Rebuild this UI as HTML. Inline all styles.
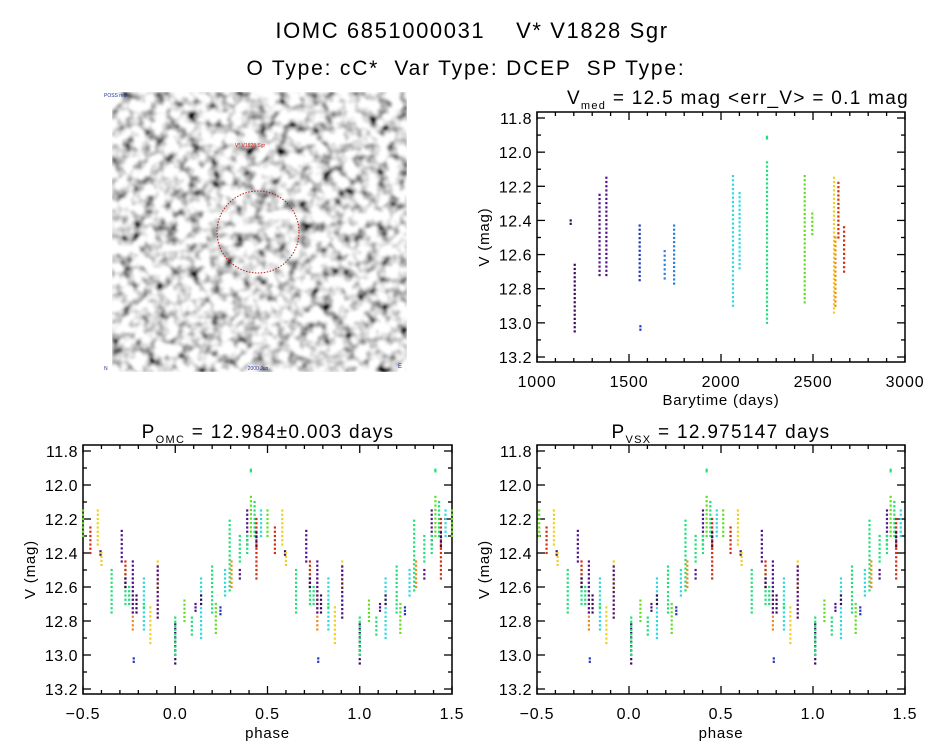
<!DOCTYPE html>
<html><head><meta charset="utf-8"><style>
html,body{margin:0;padding:0;background:#fff;}
svg{display:block;font-family:"Liberation Sans",sans-serif;}
</style></head><body>
<svg id="fig" width="944" height="747" viewBox="0 0 944 747">
<defs>
<filter id="noise" x="0" y="0" width="100%" height="100%">
<feTurbulence type="fractalNoise" baseFrequency="0.09" numOctaves="2" seed="7" result="t"/>
<feColorMatrix in="t" type="matrix" values="1 0 0 0 0 1 0 0 0 0 1 0 0 0 0 0 0 0 0 1" result="g"/>
<feComponentTransfer in="g">
<feFuncR type="linear" slope="-2.6" intercept="2.05"/>
<feFuncG type="linear" slope="-2.6" intercept="2.05"/>
<feFuncB type="linear" slope="-2.6" intercept="2.05"/>
<feFuncA type="linear" slope="0" intercept="1"/>
</feComponentTransfer>
<feGaussianBlur stdDeviation="1.1"/>
</filter>
</defs>
<text x="472" y="38" text-anchor="middle" font-size="22" letter-spacing="1.6" xml:space="preserve">IOMC 6851000031    V* V1828 Sgr</text>
<text x="466" y="75" text-anchor="middle" font-size="21" letter-spacing="1.8" xml:space="preserve">O Type: cC*  Var Type: DCEP  SP Type:</text>
<g>
<rect x="112" y="92" width="295" height="280" fill="#ddd" filter="url(#noise)"/>
<circle cx="258" cy="232" r="41" fill="none" stroke="#b02020" stroke-width="1" stroke-dasharray="1.5 1.5"/>
<text x="250" y="147" font-size="5" fill="#d02020" text-anchor="middle">V* V1828 Sgr</text>
<text x="104" y="97" font-size="5" fill="#2030a0">POSS red</text>
<text x="258" y="370" font-size="5" fill="#2030a0" text-anchor="middle">2000 Jun</text>
<text x="104" y="370" font-size="5" fill="#2030a0">N</text>
<text x="398" y="368" font-size="6" fill="#2030a0">E</text>
</g>
<g id="plots"></g>
</svg>
<script>
// ---- data ----
const seasonColors = ["#3a0a5a","#52148e","#2038c0","#2a80d8","#30d8e0","#20e07a","#64e020","#f0d020","#f08a20","#d03010"];
// light curve columns: time, magTop, magBottom, season color index
const lcTimes = [1183,1205,1340,1377,1558,1562,1694,1745,2065,2101,2250,2250,2455,2496,2614,2622,2638,2669];
const lcMagTop = [12.40,12.66,12.25,12.15,12.43,13.02,12.58,12.43,12.14,12.24,12.06,11.91,12.14,12.36,12.15,12.50,12.18,12.44];
const lcMagBot = [12.42,13.05,12.72,12.72,12.75,13.04,12.74,12.77,12.90,12.68,13.00,11.92,12.88,12.48,12.94,12.90,12.50,12.70];
const lcColor = [0,0,1,1,2,2,3,3,4,4,5,5,6,6,7,8,9,9];
// folded columns: phase (0..1), magTop, magBottom, color index
const phPhase = [0.0,0.0,0.05,0.09,0.11,0.14,0.14,0.2,0.2,0.22,0.245,0.27,0.295,0.305,0.35,0.35,0.39,0.39,0.41,0.41,0.43,0.44,0.44,0.465,0.5,0.54,0.58,0.595,0.6,0.655,0.71,0.73,0.73,0.73,0.75,0.77,0.77,0.775,0.79,0.83,0.83,0.865,0.905,0.905];
const phMagTop = [12.82,12.78,12.68,12.78,12.70,12.55,12.65,12.63,12.48,12.70,12.72,12.50,12.21,12.45,12.50,12.30,12.15,12.30,12.07,11.91,12.10,12.20,12.28,12.15,12.15,12.25,12.15,12.39,12.40,12.50,12.27,12.50,12.45,12.55,12.60,12.55,12.45,13.02,12.65,12.55,12.70,12.72,12.45,12.48];
const phMagBot = [13.05,13.00,12.80,12.88,12.74,12.90,12.70,12.75,12.60,12.87,12.76,12.65,12.62,12.60,12.55,12.45,12.35,12.40,12.30,11.92,12.30,12.55,12.36,12.30,12.30,12.40,12.35,12.41,12.47,12.75,12.45,12.70,12.60,12.60,12.70,12.85,12.75,13.04,12.75,12.85,12.72,12.93,12.78,12.78];
const phColor = [0,5,6,5,1,4,0,5,5,6,2,4,5,8,1,5,1,5,6,5,5,9,0,4,6,9,7,0,7,5,1,5,9,0,5,8,1,2,0,4,5,7,7,1];
const vsxPhaseShift = 0.012;
const yTicks = [11.8,12.0,12.2,12.4,12.6,12.8,13.0,13.2];
const yTickLabels = ["11.8","12.0","12.2","12.4","12.6","12.8","13.0","13.2"];
const tTicks = [1000,1500,2000,2500,3000];
const tTickLabels = ["1000","1500","2000","2500","3000"];
const phTicks = [-0.5,0,0.5,1,1.5];
const phTickLabels = ["\u22120.5","0.0","0.5","1.0","1.5"];

// ---- drawing ----
const NS="http://www.w3.org/2000/svg";
const root=document.getElementById('plots');
function mk(tag,attrs,parent){const e=document.createElementNS(NS,tag);for(const k in attrs)e.setAttribute(k,attrs[k]);(parent||root).appendChild(e);return e;}

function makePlot(name,box,xd,yd,xt,xtl,xMinor,yMinor){
  const g=mk('g',{});
  
  
  const sx=v=>box.x0+(v-xd[0])/(xd[1]-xd[0])*(box.x1-box.x0);
  const sy=v=>box.y0t+(v-yd[0])/(yd[1]-yd[0])*(box.y1t-box.y0t);
  const frame=mk('rect',{x:box.x0,y:box.top,width:box.x1-box.x0,height:box.bot-box.top,fill:'none',stroke:'#000','stroke-width':1.5},g);
  
  
  const tk=mk('g',{stroke:'#000','stroke-width':1.3},g);
  
  
  for(let v=xd[0];v<=xd[1]+1e-9;v+=xMinor){
    const x=sx(v);const major=xt.some(t=>Math.abs(t-v)<1e-6);const L=major?8:4;
    mk('line',{x1:x,x2:x,y1:box.bot,y2:box.bot-L},tk);
    mk('line',{x1:x,x2:x,y1:box.top,y2:box.top+L},tk);
  }
  for(let v=yd[0];v<=yd[1]+1e-9;v+=yMinor){
    const y=sy(v);const major=yTicks.some(t=>Math.abs(t-v)<1e-6);const L=major?8:4;
    mk('line',{x1:box.x0,x2:box.x0+L,y1:y,y2:y},tk);
    mk('line',{x1:box.x1,x2:box.x1-L,y1:y,y2:y},tk);
  }
  xt.forEach((v,i)=>{
    const t=mk('text',{x:sx(v),y:box.bot+25,'text-anchor':'middle','font-size':16,'letter-spacing':0.8},g);
    t.textContent=xtl[i];
    
    
  });
  yTicks.forEach((v,i)=>{
    const t=mk('text',{x:box.x0-5,y:sy(v)+6,'text-anchor':'end','font-size':16,'letter-spacing':0.5},g);
    t.textContent=yTickLabels[i];
    
    
  });
  const yl=mk('text',{x:0,y:0,'text-anchor':'middle','font-size':15,'letter-spacing':0.8,transform:`translate(${box.x0-48},${(box.top+box.bot)/2}) rotate(-90)`},g);
  yl.textContent='V (mag)';
  
  
  return {g,sx,sy};
}
function column(p,g,x,m1,m2,c,name){
  const col=mk('g',{fill:seasonColors[c]},g);
  
  
  const n=Math.max(1,Math.round((m2-m1)/0.025));
  for(let k=0;k<=n;k++){
    const m=m1+(m2-m1)*k/n;
    mk('rect',{x:p.sx(x)-1.1,y:p.sy(m)-1.1,width:2.2,height:2.2},col);
  }
}
function title(x,y,main,sub,rest,name){
  const t=mk('text',{x:x,y:y,'text-anchor':'middle','font-size':19,'letter-spacing':1.3,'xml:space':'preserve'});
  
  
  const a=mk('tspan',{},t);a.textContent=main;
  const b=mk('tspan',{'font-size':11,dy:5},t);b.textContent=sub;
  const c=mk('tspan',{dy:-5},t);c.textContent=rest;
}

const lc=makePlot('light-curve-plot',{x0:537,x1:905,top:112,bot:362,y0t:118,y1t:357},[1000,3000],[11.8,13.2],tTicks,tTickLabels,100,0.1);
lcTimes.forEach((t,i)=>column(lc,lc.g,t,lcMagTop[i],lcMagBot[i],lcColor[i],'lc-points'));
title(738,104,'V','med','  =  12.5  mag  <err_V>  =  0.1  mag','light-curve-title');
const xl1=mk('text',{x:721,y:405,'text-anchor':'middle','font-size':15,'letter-spacing':0.8});xl1.textContent='Barytime (days)';



function phasePlot(name,x0,x1,shift){
  const p=makePlot(name,{x0:x0,x1:x1,top:445,bot:694,y0t:451,y1t:689},[-0.5,1.5],[11.8,13.2],phTicks,phTickLabels,0.1,0.1);
  phPhase.forEach((ph,i)=>{
    [-1,0,1].forEach(o=>{
      const v=ph+shift+o;
      if(v>=-0.5&&v<=1.5) column(p,p.g,v,phMagTop[i],phMagBot[i],phColor[i],'phase-points');
    });
  });
  const xl=mk('text',{x:(x0+x1)/2,y:738,'text-anchor':'middle','font-size':15,'letter-spacing':0.8});xl.textContent='phase';
  
  
  return p;
}
phasePlot('omc-phase-plot',83,452,0);
title(268,438,'P','OMC','  =  12.984\u00b10.003  days','omc-period-title');
phasePlot('vsx-phase-plot',537,905,vsxPhaseShift);
title(721,438,'P','VSX','  =  12.975147  days','vsx-period-title');
</script>
</body></html>
